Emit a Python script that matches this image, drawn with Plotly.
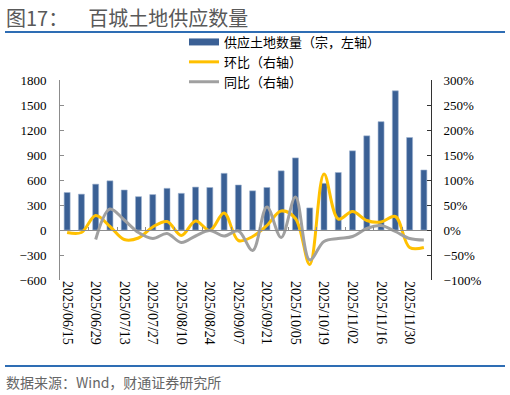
import plotly.graph_objects as go

dates = ["2025/06/15", "2025/06/22", "2025/06/29", "2025/07/06", "2025/07/13", "2025/07/20",
         "2025/07/27", "2025/08/03", "2025/08/10", "2025/08/17", "2025/08/24", "2025/08/31",
         "2025/09/07", "2025/09/14", "2025/09/21", "2025/09/28", "2025/10/05", "2025/10/12",
         "2025/10/19", "2025/10/26", "2025/11/02", "2025/11/09", "2025/11/16", "2025/11/23",
         "2025/11/30", "2025/12/07"]
supply = [450, 430, 550, 590, 480, 400, 425, 500, 440, 515, 510, 680, 540,
          470, 510, 710, 865, 265, 560, 690, 950, 1130, 1300, 1670, 1110, 720]
wow = [-0.05, -0.05, 0.29, 0.07, -0.19, -0.16, 0.06, 0.17, -0.11, 0.18, -0.01, 0.34, -0.21,
       -0.13, 0.09, 0.38, 0.23, -0.69, 1.12, 0.22, 0.37, 0.19, 0.16, 0.27, -0.35, -0.35]
yoy = [None, None, -0.19, 0.42, 0.20, -0.05, -0.17, -0.07, -0.25, -0.12, -0.01, -0.12, -0.02,
       -0.41, 0.46, -0.15, 0.66, -0.60, -0.23, -0.17, -0.13, 0.03, 0.09, -0.03, -0.17, -0.20]
tick_labels = dates[::2]

BLUE = "#3A6095"
YELLOW = "#FFC000"
GREY = "#A0A0A0"

fig = go.Figure()
fig.add_trace(go.Bar(x=dates, y=supply, name="供应土地数量（宗，左轴）", showlegend=False,
                     marker=dict(color=BLUE, line=dict(color="#9FB4D0", width=0.6)),
                     xaxis="x", yaxis="y"))
# legend proxy for the bar series (wide rectangle symbol)
fig.add_trace(go.Scatter(x=[None], y=[None], mode="lines", name="供应土地数量（宗，左轴）",
                         line=dict(color=BLUE, width=7), xaxis="x2", yaxis="y2"))
fig.add_trace(go.Scatter(x=dates, y=wow, mode="lines", name="环比（右轴）",
                         line=dict(color=YELLOW, width=3, shape="spline", smoothing=1.0),
                         xaxis="x2", yaxis="y2"))
fig.add_trace(go.Scatter(x=dates, y=yoy, mode="lines", name="同比（右轴）",
                         line=dict(color=GREY, width=3, shape="spline", smoothing=1.0),
                         xaxis="x2", yaxis="y2"))

L, R, T, B = 60, 79, 80, 115
W, H = 510, 395
pw, ph = W - L - R, H - T - B

def px_x(px):
    return (px - L) / pw

def px_y(py):
    return (H - B - py) / ph

tickfont = dict(family="Liberation Serif", size=13, color="#000000")

fig.update_layout(
    width=W, height=H,
    margin=dict(l=L, r=R, t=T, b=B),
    paper_bgcolor="white", plot_bgcolor="white",
    bargap=0.58,
    showlegend=True,
    legend=dict(x=px_x(184), y=px_y(62), xanchor="left", yanchor="middle",
                font=dict(family="Noto Sans CJK SC", size=13, color="#000000"),
                bgcolor="rgba(0,0,0,0)", tracegroupgap=0, itemwidth=30),
    xaxis=dict(type="category", range=[-0.5, len(dates) - 0.5],
               tickmode="array", tickvals=tick_labels, ticktext=tick_labels,
               tickangle=90, tickfont=dict(family="Liberation Serif", size=14, color="#000000"),
               showline=False, ticks="", showgrid=False, zeroline=False),
    xaxis2=dict(type="category", matches="x", overlaying="x", anchor="free", position=0.25,
                showline=True, linecolor="#8C8C8C", linewidth=1,
                ticks="inside", ticklen=3, tickcolor="#8C8C8C", tickson="boundaries",
                showticklabels=False, showgrid=False, zeroline=False),
    yaxis=dict(range=[-600, 1800], dtick=300, tick0=0, showgrid=False, zeroline=False,
               showline=True, linecolor="#8C8C8C", linewidth=1,
               ticks="inside", ticklen=4, tickcolor="#8C8C8C",
               tickfont=tickfont, ticklabelstandoff=10),
    yaxis2=dict(range=[-1, 3], dtick=0.5, tick0=0, tickformat=".0%", overlaying="y",
                side="right", anchor="x", showgrid=False, zeroline=False,
                showline=True, linecolor="#333333", linewidth=1,
                ticks="inside", ticklen=4, tickcolor="#333333",
                tickfont=tickfont, ticklabelstandoff=9),
    annotations=[
        dict(text="图17：\u2003百城土地供应数量", xref="paper", yref="paper",
             x=px_x(4), y=px_y(17), xanchor="left", yanchor="middle", showarrow=False,
             font=dict(family="Noto Sans CJK SC", size=20, color="#595959")),
        dict(text="数据来源：Wind，财通证券研究所", xref="paper", yref="paper",
             x=px_x(4), y=px_y(382), xanchor="left", yanchor="middle", showarrow=False,
             font=dict(family="Noto Sans CJK SC", size=14, color="#666666")),
    ],
    shapes=[
        dict(type="line", xref="paper", yref="paper", x0=px_x(5), x1=px_x(505),
             y0=px_y(32), y1=px_y(32), line=dict(color="#2E6DB4", width=2)),
        dict(type="line", xref="paper", yref="paper", x0=px_x(5), x1=px_x(505),
             y0=px_y(366), y1=px_y(366), line=dict(color="#2E6DB4", width=2)),
    ],
)

fig.write_html("out.html")
